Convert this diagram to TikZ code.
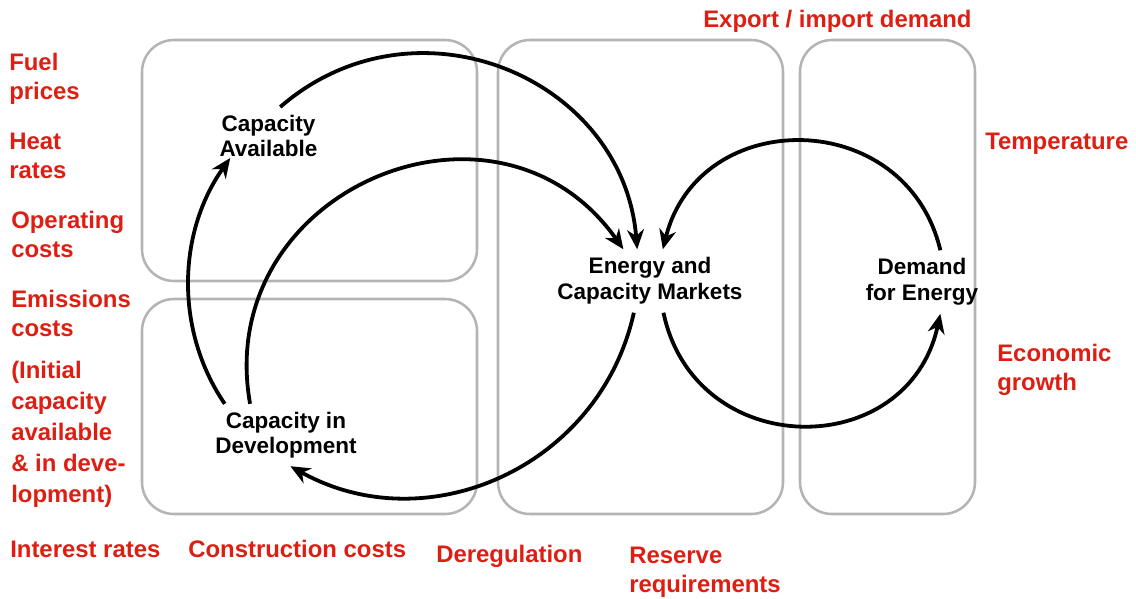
\documentclass[tikz,border=0pt]{standalone}
\usepackage{fontspec}
\setmainfont{Liberation Sans}
\usetikzlibrary{arrows.meta}
\definecolor{factorred}{RGB}{222,30,18}
\definecolor{panelgray}{RGB}{180,180,180}
\tikzset{
panel/.style={draw=panelgray, line width=1.8pt, rounded corners=0.8cm},
factor/.style={text=factorred, font=\bfseries\fontsize{17}{20.5}\selectfont,
	anchor=north west, inner sep=0pt, align=left},
stock/.style={font=\bfseries\fontsize{16}{17.7}\selectfont, align=center,
	inner sep=5.7pt},
market/.style={font=\bfseries\fontsize{16}{18.4}\selectfont, align=center,
	inner sep=5.7pt},
link/.style={line width=2.7pt, -{Stealth[length=14pt,width=12pt,inset=4.5pt]}}
}

\begin{document}
\begin{tikzpicture}[x=0.025cm, y=-0.025cm]
	\useasboundingbox (0,0) rectangle (1136,598);
	% panels
	\draw[panel] (142,40) rectangle (477,281);
	\draw[panel] (142,299) rectangle (477,514);
	\draw[panel] (498,40) rectangle (783,514);
	\draw[panel] (800,40) rectangle (975,514);

	% stocks and markets
	\node[stock] (ca) at (268.5,136) {Capacity\\Available};
	\node[stock] (cid) at (286,435) {Capacity in\\Development};
	\node[market] (ecm) at (650,281) {Energy and\\Capacity Markets};
	\node[market] (dem) at (922,282) {Demand\\for Energy};

	% outside factors
	\node[factor] (fuel) at (9,53) {Fuel\\prices};
	\node[factor] (heat) at (9,133) {Heat\\rates};
	\node[factor] (opcost) at (11,211) {Operating\\costs};
	\node[factor] (emcost) at (11,290) {Emissions\\costs};
	\node[factor, font=\bfseries\fontsize{17}{22}\selectfont] (init) at (11,361)
		{(Initial\\capacity\\available\\\& in deve-\\lopment)};
	\node[factor] (interest) at (10,541) {Interest rates};
	\node[factor] (constr) at (188,540) {Construction costs};
	\node[factor] (dereg) at (436,545) {Deregulation};
	\node[factor] (reserve) at (629,547) {Reserve\\requirements};
	\node[factor] (trade) at (703,10) {Export / import demand};
	\node[factor] (temp) at (985,133) {Temperature};
	\node[factor] (growth) at (997,344) {Economic\\growth};

	% loops
	\draw[link] (ca.68) .. controls (415,-10) and (623,77) .. (ecm.112);
	\draw[link] (cid.139) .. controls (212,190) and (497,70) .. (ecm.130);
	\draw[link] (dem.60) .. controls (906,106) and (699,105) .. (ecm.68);
	\draw[link] (ecm.293) .. controls (695,462) and (908,463) .. (dem.-60);
	\draw[link] (ecm.243) .. controls (600,466) and (428,543) .. (cid.278);
	\draw[link] (cid.153) .. controls (175,331) and (177,233)
		.. ([shift={(19,-7)}]ca.south west);
\end{tikzpicture}
\end{document}
